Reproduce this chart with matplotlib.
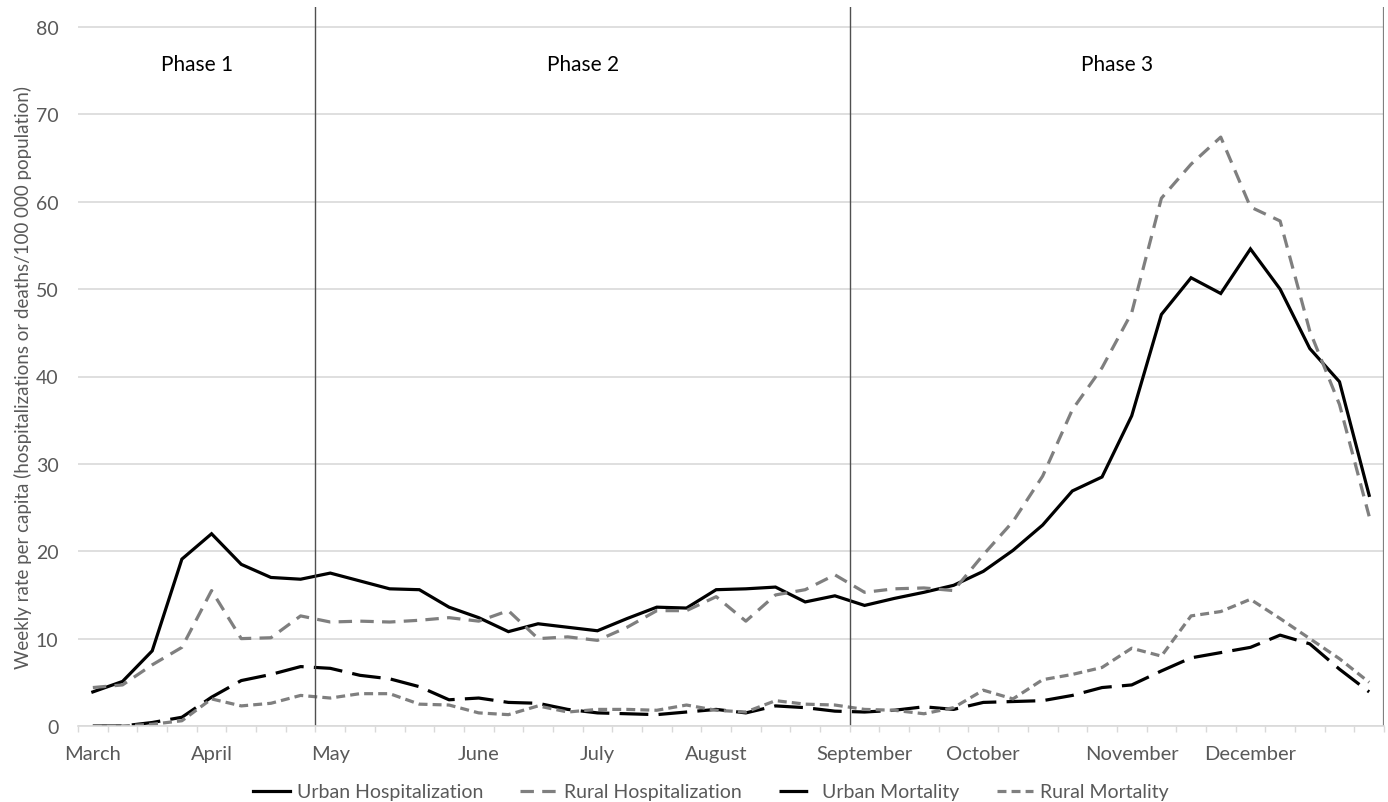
import matplotlib
matplotlib.use("Agg")
import matplotlib.pyplot as plt

plt.rcParams["font.family"] = ["Lato", "DejaVu Sans"]

# weekly values, March to December (44 weeks)
urban_hosp = [3.9, 5.1, 8.6, 19.1, 22.0, 18.5, 17.0, 16.8, 17.5, 16.6, 15.7,
              15.6, 13.6, 12.4, 10.8, 11.7, 11.3, 10.9, 12.3, 13.6, 13.5, 15.6,
              15.7, 15.9, 14.2, 14.9, 13.8, 14.6, 15.3, 16.1, 17.7, 20.1, 23.0,
              26.9, 28.5, 35.5, 47.1, 51.3, 49.5, 54.6, 50.0, 43.2, 39.4, 26.4]
rural_hosp = [4.4, 4.7, 7.0, 9.0, 15.5, 10.0, 10.1, 12.6, 11.9, 12.0, 11.9,
              12.1, 12.4, 12.0, 13.2, 10.0, 10.2, 9.8, 11.3, 13.2, 13.2, 14.8,
              12.0, 15.0, 15.6, 17.3, 15.3, 15.7, 15.8, 15.5, 19.6, 23.4, 28.6,
              36.2, 41.0, 47.3, 60.4, 64.3, 67.4, 59.4, 57.8, 45.2, 36.8, 24.0]
urban_mort = [0.0, 0.0, 0.4, 1.0, 3.3, 5.2, 5.9, 6.8, 6.6, 5.8, 5.4,
              4.5, 3.0, 3.2, 2.7, 2.6, 1.9, 1.5, 1.4, 1.3, 1.6, 1.9,
              1.5, 2.3, 2.1, 1.7, 1.6, 1.8, 2.2, 1.9, 2.7, 2.8, 2.9,
              3.5, 4.4, 4.7, 6.3, 7.8, 8.4, 9.0, 10.4, 9.4, 6.5, 3.9]
rural_mort = [0.0, 0.0, 0.2, 0.6, 3.1, 2.3, 2.6, 3.5, 3.2, 3.7, 3.7,
              2.5, 2.4, 1.5, 1.3, 2.3, 1.6, 1.9, 1.9, 1.8, 2.4, 1.8,
              1.6, 2.9, 2.5, 2.4, 1.9, 1.8, 1.4, 2.1, 4.1, 3.1, 5.3,
              5.9, 6.7, 8.9, 8.0, 12.6, 13.1, 14.5, 12.3, 10.0, 7.7, 5.0]

months = ["March", "April", "May", "June", "July", "August",
          "September", "October", "November", "December"]
month_weeks = [0, 4, 8, 13, 17, 21, 26, 30, 35, 39]
phase_starts = [8, 26]
phase_names = ["Phase 1", "Phase 2", "Phase 3"]

TXT = "#595959"
GRID = "#d9d9d9"
GREY = "#7f7f7f"

fig = plt.figure(figsize=(13.88, 8.03), dpi=100)
ax = fig.add_axes([78 / 1388, 76 / 803, 1306 / 1388, 719 / 803])

n = len(urban_hosp)
weeks = list(range(n))
lw = 2.3
ax.plot(weeks, urban_hosp, color="black", lw=lw, solid_joinstyle="miter",
        label="Urban Hospitalization")
ax.plot(weeks, rural_hosp, color=GREY, lw=lw, linestyle=(0, (4.2, 2.6)),
        label="Rural Hospitalization")
ax.plot(weeks, urban_mort, color="black", lw=lw, linestyle=(0, (9, 3.2)),
        label="Urban Mortality")
ax.plot(weeks, rural_mort, color=GREY, lw=lw, linestyle=(0, (2.8, 1.6)),
        label="Rural Mortality")

ax.set_xlim(-0.5, n - 0.5)
ax.set_ylim(0, 80 + 20 / 8.7375)
ax.set_yticks(range(0, 81, 10))
ax.grid(axis="y", color=GRID, lw=1.2)
ax.set_axisbelow(True)

ax.set_xticks(month_weeks)
ax.set_xticklabels(months)
ax.set_xticks([i - 0.5 for i in range(n + 1)], minor=True)
ax.tick_params(axis="x", which="major", length=0, pad=14, labelsize=14.5,
               labelcolor=TXT)
ax.tick_params(axis="x", which="minor", length=4, width=1, color=GRID)
ax.tick_params(axis="y", length=0, pad=14, labelsize=14, labelcolor=TXT)

for s in ["top", "left", "right"]:
    ax.spines[s].set_visible(False)
ax.spines["bottom"].set_color(GRID)
ax.spines["bottom"].set_linewidth(1.2)

for p in phase_starts:
    ax.axvline(p - 0.5, color="#505050", lw=1.0)
ax.axvline(n - 0.5, color="#808080", lw=1.6)

bounds = [-0.5] + [p - 0.5 for p in phase_starts] + [n - 0.5]
for i, name in enumerate(phase_names):
    ax.text((bounds[i] + bounds[i + 1]) / 2, 75.8, name, ha="center",
            va="center", fontsize=15, color="black")

ax.set_ylabel("Weekly rate per capita (hospitalizations or deaths/100 000 population)",
              fontsize=13.5, color=TXT)
ax.yaxis.set_label_coords(-0.035, 0.486)

handles, labels = ax.get_legend_handles_labels()
fig.legend(handles, labels, loc="center", bbox_to_anchor=(711 / 1388, 1 - 793 / 803),
           ncol=4, frameon=False, fontsize=14, labelcolor=TXT, handlelength=1.9,
           handletextpad=0.35, columnspacing=1.9)

fig.savefig("out.png", dpi=100)
